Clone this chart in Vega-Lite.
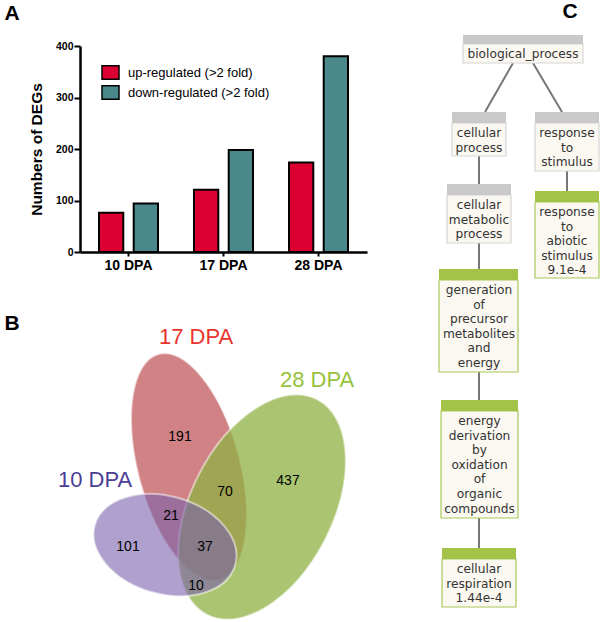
{
  "$schema": "https://vega.github.io/schema/vega-lite/v6.json",
  "width": 600,
  "height": 622,
  "padding": 0,
  "autosize": {"type": "none"},
  "background": "white",
  "config": {"view": {"stroke": null}, "font": "Liberation Sans"},
  "datasets": {
    "degs": [
      {"stage": "10 DPA", "regulation": "up-regulated (>2 fold)", "count": 76},
      {"stage": "10 DPA", "regulation": "down-regulated (>2 fold)", "count": 94},
      {"stage": "17 DPA", "regulation": "up-regulated (>2 fold)", "count": 121},
      {"stage": "17 DPA", "regulation": "down-regulated (>2 fold)", "count": 198},
      {"stage": "28 DPA", "regulation": "up-regulated (>2 fold)", "count": 174},
      {"stage": "28 DPA", "regulation": "down-regulated (>2 fold)", "count": 380}
    ],
    "panels": [
      {"panel": "A", "px": 12, "py": 14},
      {"panel": "B", "px": 12, "py": 324},
      {"panel": "C", "px": 570, "py": 12}
    ],
    "sets": [
      {"set": "17 DPA", "cx": 189, "cy": 467, "lx": 196, "ly": 337},
      {"set": "28 DPA", "cx": 262, "cy": 507, "lx": 317, "ly": 380},
      {"set": "10 DPA", "cx": 165, "cy": 545, "lx": 95, "ly": 480}
    ],
    "regions": [
      {"region": "17 only", "n": 191, "px": 180, "py": 437},
      {"region": "28 only", "n": 437, "px": 288, "py": 481},
      {"region": "17 & 28", "n": 70, "px": 225, "py": 492},
      {"region": "10 & 17", "n": 21, "px": 171, "py": 516},
      {"region": "10 only", "n": 101, "px": 128, "py": 547},
      {"region": "10 & 17 & 28", "n": 37, "px": 205, "py": 547},
      {"region": "10 & 28", "n": 10, "px": 196, "py": 586}
    ],
    "nodes": [
      {"term": "biological_process", "status": "GO term", "left": 463, "right": 583, "top": 35, "bar": 44, "bottom": 63, "cx": 523},
      {"term": "cellular process", "status": "GO term", "left": 452, "right": 506, "top": 112, "bar": 123, "bottom": 156, "cx": 479},
      {"term": "response to stimulus", "status": "GO term", "left": 535, "right": 599, "top": 112, "bar": 123, "bottom": 171, "cx": 567},
      {"term": "cellular metabolic process", "status": "GO term", "left": 447, "right": 511, "top": 184, "bar": 195, "bottom": 243, "cx": 479},
      {"term": "response to abiotic stimulus 9.1e-4", "status": "enriched", "left": 535, "right": 599, "top": 191, "bar": 202, "bottom": 278, "cx": 567},
      {"term": "generation of precursor metabolites and energy", "status": "enriched", "left": 439, "right": 518, "top": 269, "bar": 280, "bottom": 372, "cx": 479},
      {"term": "energy derivation by oxidation of organic compounds", "status": "enriched", "left": 441, "right": 518, "top": 400, "bar": 411, "bottom": 518, "cx": 479.5},
      {"term": "cellular respiration 1.44e-4", "status": "enriched", "left": 442, "right": 516, "top": 548, "bar": 559, "bottom": 607, "cx": 479}
    ],
    "edges": [
      {"parent": "biological_process", "child": "cellular process", "xa": 513, "ya": 63, "xb": 485, "yb": 112},
      {"parent": "biological_process", "child": "response to stimulus", "xa": 533, "ya": 63, "xb": 562, "yb": 112},
      {"parent": "cellular process", "child": "cellular metabolic process", "xa": 479, "ya": 156, "xb": 479, "yb": 184},
      {"parent": "response to stimulus", "child": "response to abiotic stimulus", "xa": 567, "ya": 171, "xb": 567, "yb": 191},
      {"parent": "cellular metabolic process", "child": "generation of precursor metabolites and energy", "xa": 479, "ya": 243, "xb": 479, "yb": 269},
      {"parent": "generation of precursor metabolites and energy", "child": "energy derivation by oxidation of organic compounds", "xa": 479, "ya": 372, "xb": 479, "yb": 400},
      {"parent": "energy derivation by oxidation of organic compounds", "child": "cellular respiration", "xa": 479, "ya": 518, "xb": 479, "yb": 548}
    ]
  },
  "resolve": {"scale": {"x": "independent", "y": "independent", "color": "independent"}, "axis": {"x": "independent", "y": "independent"}, "legend": {"color": "independent"}},
  "layer": [
    {
      "data": {"name": "degs"},
      "mark": {"type": "bar", "stroke": "black", "strokeWidth": 2},
      "encoding": {
        "x": {
          "field": "stage", "type": "nominal",
          "scale": {"domain": ["10 DPA", "17 DPA", "28 DPA"], "range": [80, 367], "paddingInner": 0.379, "paddingOuter": 0.2},
          "axis": {"title": null, "orient": "bottom", "offset": -370, "labelAngle": 0, "labelFont": "Liberation Sans", "labelFontWeight": "bold", "labelFontSize": 14, "labelColor": "black", "labelPadding": 2, "domainColor": "black", "domainWidth": 2.5, "tickColor": "black", "tickWidth": 2, "tickSize": 4}
        },
        "xOffset": {"field": "regulation", "type": "nominal", "scale": {"domain": ["up-regulated (>2 fold)", "down-regulated (>2 fold)"], "paddingInner": 0.3}},
        "y": {
          "field": "count", "type": "quantitative",
          "scale": {"domain": [0, 400], "range": [252, 46], "nice": false},
          "axis": {"title": "Numbers of DEGs", "orient": "left", "offset": -80, "values": [0, 100, 200, 300, 400], "grid": false, "titleFont": "Liberation Sans", "titleFontSize": 15.5, "titleFontWeight": "bold", "titleColor": "black", "titlePadding": 11, "labelFont": "Liberation Sans", "labelFontSize": 10.5, "labelFontWeight": "bold", "labelColor": "black", "labelPadding": 1, "tickSize": 6, "tickWidth": 2, "tickColor": "black", "domainColor": "black", "domainWidth": 2.5}
        },
        "color": {
          "field": "regulation", "type": "nominal",
          "scale": {"domain": ["up-regulated (>2 fold)", "down-regulated (>2 fold)"], "range": ["#dc0032", "#4a888c"]},
          "legend": {"orient": "none", "legendX": 101, "legendY": 63, "title": null, "padding": 0, "symbolType": "M -1 -0.78 H 1 V 0.78 H -1 Z", "symbolSize": 289, "symbolStrokeColor": "black", "symbolStrokeWidth": 1.5, "symbolOpacity": 1, "labelFont": "Liberation Sans", "labelFontSize": 13, "labelColor": "black", "labelOffset": 8, "rowPadding": -2.2}
        }
      }
    },
    {
      "layer": [
        {
          "data": {"name": "sets"},
          "transform": [{"filter": "datum.set === '17 DPA'"}],
          "mark": {"type": "point", "filled": true, "fill": "#c0585b", "fillOpacity": 0.75, "stroke": "white", "strokeOpacity": 0.5, "strokeWidth": 2, "size": 54756, "angle": 75, "shape": "M 1 0 C 1 0.2408 0.5523 0.436 0 0.436 C -0.5523 0.436 -1 0.2408 -1 0 C -1 -0.2408 -0.5523 -0.436 0 -0.436 C 0.5523 -0.436 1 -0.2408 1 0 Z"},
          "encoding": {
            "x": {"field": "cx", "type": "quantitative", "scale": {"domain": [0, 600], "range": [0, 600], "nice": false, "zero": false}, "axis": null},
            "y": {"field": "cy", "type": "quantitative", "scale": {"domain": [0, 622], "range": [0, 622], "nice": false, "zero": false}, "axis": null}
          }
        },
        {
          "data": {"name": "sets"},
          "transform": [{"filter": "datum.set === '28 DPA'"}],
          "mark": {"type": "point", "filled": true, "fill": "#8fb043", "fillOpacity": 0.75, "stroke": "white", "strokeOpacity": 0.5, "strokeWidth": 2, "size": 58564, "angle": 117, "shape": "M 1 0 C 1 0.3242 0.5523 0.587 0 0.587 C -0.5523 0.587 -1 0.3242 -1 0 C -1 -0.3242 -0.5523 -0.587 0 -0.587 C 0.5523 -0.587 1 -0.3242 1 0 Z"},
          "encoding": {
            "x": {"field": "cx", "type": "quantitative", "axis": null},
            "y": {"field": "cy", "type": "quantitative", "axis": null}
          }
        },
        {
          "data": {"name": "sets"},
          "transform": [{"filter": "datum.set === '10 DPA'"}],
          "mark": {"type": "point", "filled": true, "fill": "#7961ac", "fillOpacity": 0.6, "stroke": "white", "strokeOpacity": 0.5, "strokeWidth": 2, "size": 21316, "angle": 16, "shape": "M 1 0 C 1 0.3706 0.5523 0.671 0 0.671 C -0.5523 0.671 -1 0.3706 -1 0 C -1 -0.3706 -0.5523 -0.671 0 -0.671 C 0.5523 -0.671 1 -0.3706 1 0 Z"},
          "encoding": {
            "x": {"field": "cx", "type": "quantitative", "axis": null},
            "y": {"field": "cy", "type": "quantitative", "axis": null}
          }
        },
        {
          "data": {"name": "sets"},
          "mark": {"type": "text", "font": "Liberation Sans", "fontSize": 22, "align": "center", "baseline": "middle"},
          "encoding": {
            "x": {"field": "lx", "type": "quantitative", "axis": null},
            "y": {"field": "ly", "type": "quantitative", "axis": null},
            "text": {"field": "set"},
            "color": {"field": "set", "type": "nominal", "scale": {"domain": ["17 DPA", "28 DPA", "10 DPA"], "range": ["#e8352c", "#97c23d", "#4c3d96"]}, "legend": null}
          }
        },
        {
          "data": {"name": "regions"},
          "mark": {"type": "text", "font": "Liberation Sans", "fontSize": 14, "align": "center", "baseline": "middle", "color": "black"},
          "encoding": {
            "x": {"field": "px", "type": "quantitative", "axis": null},
            "y": {"field": "py", "type": "quantitative", "axis": null},
            "text": {"field": "n"}
          }
        },
        {
          "data": {"name": "edges"},
          "mark": {"type": "rule", "color": "#777777", "strokeWidth": 2},
          "encoding": {
            "x": {"field": "xa", "type": "quantitative", "axis": null},
            "y": {"field": "ya", "type": "quantitative", "axis": null},
            "x2": {"field": "xb"},
            "y2": {"field": "yb"}
          }
        },
        {
          "data": {"name": "nodes"},
          "mark": {"type": "rect", "fill": "#faf8f1", "strokeWidth": 1.2},
          "encoding": {
            "x": {"field": "left", "type": "quantitative", "axis": null},
            "x2": {"field": "right"},
            "y": {"field": "bar", "type": "quantitative", "axis": null},
            "y2": {"field": "bottom"},
            "stroke": {"field": "status", "type": "nominal", "scale": {"domain": ["GO term", "enriched"], "range": ["#d6d6d6", "#a9c85a"]}, "legend": null}
          }
        },
        {
          "data": {"name": "nodes"},
          "mark": {"type": "rect"},
          "encoding": {
            "x": {"field": "left", "type": "quantitative", "axis": null},
            "x2": {"field": "right"},
            "y": {"field": "top", "type": "quantitative", "axis": null},
            "y2": {"field": "bar"},
            "fill": {"field": "status", "type": "nominal", "scale": {"domain": ["GO term", "enriched"], "range": ["#c9c9c9", "#a2c348"]}, "legend": null}
          }
        },
        {
          "data": {"name": "nodes"},
          "mark": {"type": "text", "font": "DejaVu Sans", "fontSize": 12.2, "lineBreak": " ", "lineHeight": 14.6, "align": "center", "baseline": "middle", "dy": 10, "color": "#333333"},
          "encoding": {
            "x": {"field": "cx", "type": "quantitative", "axis": null},
            "y": {"field": "bar", "type": "quantitative", "axis": null},
            "text": {"field": "term"}
          }
        },
        {
          "data": {"name": "panels"},
          "mark": {"type": "text", "font": "Liberation Sans", "fontSize": 21, "fontWeight": "bold", "align": "center", "baseline": "middle", "color": "black"},
          "encoding": {
            "x": {"field": "px", "type": "quantitative", "axis": null},
            "y": {"field": "py", "type": "quantitative", "axis": null},
            "text": {"field": "panel"}
          }
        }
      ]
    }
  ]
}
